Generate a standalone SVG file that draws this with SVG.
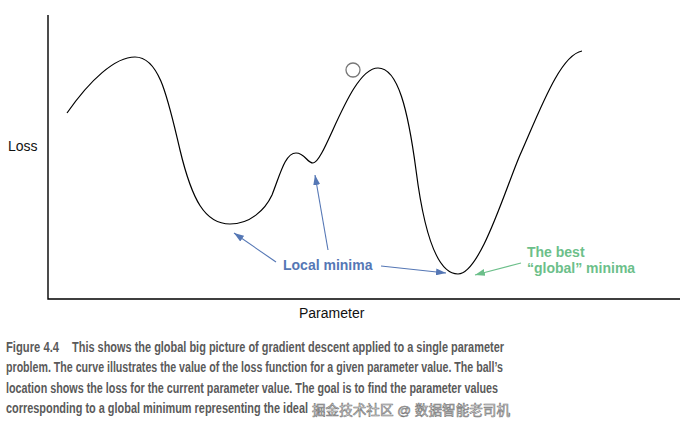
<svg xmlns="http://www.w3.org/2000/svg" width="696" height="432" viewBox="0 0 696 432">
<style>
.axis{fill:none;stroke:#000;stroke-width:1.4}
.curve{fill:none;stroke:#000;stroke-width:1.2}
.lbl{font-family:"Liberation Sans",Arial,sans-serif;font-size:14px;fill:#111}
.blue{stroke:#5577b5;stroke-width:1.1;fill:none}
.green{stroke:#6cbf8a;stroke-width:1.1;fill:none}
.btxt{font-family:"Liberation Sans",Arial,sans-serif;font-size:14px;font-weight:bold;fill:#5577b5}
.gtxt{font-family:"Liberation Sans",Arial,sans-serif;font-size:14px;font-weight:bold;fill:#6cbf8a}
.cap{font-family:"Liberation Sans",Arial,sans-serif;font-size:14.5px;font-weight:bold;fill:#5a5a5a}
.wm{font-family:"Liberation Sans","Noto Sans CJK SC",sans-serif;font-size:13.5px;fill:#f2f2f2;stroke:#777;stroke-width:0.6}
</style>
<defs>
<marker id="ab" markerUnits="userSpaceOnUse" markerWidth="10" markerHeight="7" refX="10" refY="3.5" orient="auto"><path d="M0,0 L10,3.5 L0,7 z" fill="#5577b5"/></marker>
<marker id="ag" markerUnits="userSpaceOnUse" markerWidth="10" markerHeight="7" refX="10" refY="3.5" orient="auto"><path d="M0,0 L10,3.5 L0,7 z" fill="#6cbf8a"/></marker>
</defs>
<rect width="696" height="432" fill="#fff"/>
<g id="axes">
<path class="axis" d="M48,15 V299 H680"/>
<text class="lbl" x="8" y="151">Loss</text>
<text class="lbl" x="299" y="318">Parameter</text>
</g>
<g id="curve">
<path class="curve" d="M67,113 C90,80 115,57 135,57 C160,57 168,100 180,150 C192,200 205,224 230,224 C250,224 265,210 272,195 C280,175 285,153 296,153 C305,153 307,163 313,163 C325,163 350,68 378,68 C398,68 408,110 416,170 C423,225 435,274 458,274 C480,274 505,190 520,155 C540,110 560,55 582,51"/>
</g>
<g id="ball">
<circle cx="353" cy="70" r="7" fill="#fff" stroke="#777" stroke-width="1.3"/>
</g>
<g id="connectors">
<line class="blue" x1="276" y1="262" x2="234" y2="233" marker-end="url(#ab)"/>
<line class="blue" x1="328" y1="250" x2="315" y2="175" marker-end="url(#ab)"/>
<line class="blue" x1="381" y1="266" x2="446" y2="273" marker-end="url(#ab)"/>
<line class="green" x1="521" y1="263" x2="475" y2="275" marker-end="url(#ag)"/>
</g>
<g id="local-minima">
<text class="btxt" x="283" y="270">Local minima</text>
</g>
<g id="global-minima">
<text class="gtxt" x="527" y="257">The best</text>
<text class="gtxt" x="527" y="273">“global” minima</text>
</g>
<g id="caption">
<text class="cap" x="6" y="352" textLength="53" lengthAdjust="spacingAndGlyphs">Figure 4.4</text>
<text class="cap" x="72" y="352" textLength="432" lengthAdjust="spacingAndGlyphs">This shows the global big picture of gradient descent applied to a single parameter</text>
<text class="cap" x="6" y="372" textLength="497" lengthAdjust="spacingAndGlyphs">problem. The curve illustrates the value of the loss function for a given parameter value. The ball’s</text>
<text class="cap" x="6" y="393" textLength="492" lengthAdjust="spacingAndGlyphs">location shows the loss for the current parameter value. The goal is to find the parameter values</text>
<text class="cap" x="6" y="413" textLength="302" lengthAdjust="spacingAndGlyphs">corresponding to a global minimum representing the ideal</text>
<text class="wm" x="312" y="415" textLength="198" lengthAdjust="spacingAndGlyphs">掘金技术社区 @ 数据智能老司机</text>
</g>
</svg>
